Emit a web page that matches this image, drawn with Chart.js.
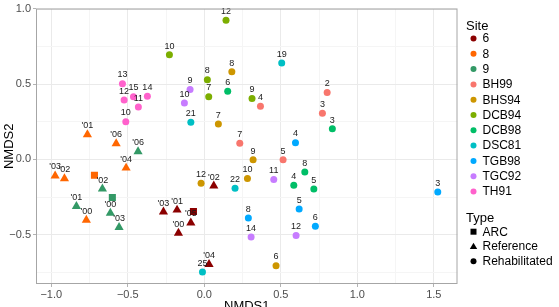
<!DOCTYPE html>
<html>
<head>
<meta charset="utf-8">
<script src="https://cdn.jsdelivr.net/npm/chart.js@4.4.0/dist/chart.umd.min.js"></script>
<style>
  body { margin: 0; background: #fff; }
</style>
</head>
<body>
<canvas id="myChart" width="559" height="307"></canvas>
<script>
const siteNames = ["6", "8", "9", "BH99", "BHS94", "DCB94", "DCB98", "DSC81", "TGB98", "TGC92", "TH91"];
const siteColors = ["#8B0000", "#FF6600", "#339966", "#F8766D", "#CD9600", "#7CAE00", "#00BE67", "#00BFC4", "#00A9FF", "#C77CFF", "#FF61CC"];
const typeNames = ["ARC", "Reference", "Rehabilitated"];

// one entry per sample, grouped by site
const pointSite = [
  "6", "6", "6", "6", "6", "6", "6",
  "8", "8", "8", "8", "8", "8", "8",
  "9", "9", "9", "9", "9", "9",
  "BH99", "BH99", "BH99", "BH99", "BH99",
  "BHS94", "BHS94", "BHS94", "BHS94", "BHS94", "BHS94",
  "DCB94", "DCB94", "DCB94", "DCB94", "DCB94",
  "DCB98", "DCB98", "DCB98", "DCB98", "DCB98",
  "DSC81", "DSC81", "DSC81", "DSC81",
  "TGB98", "TGB98", "TGB98", "TGB98", "TGB98",
  "TGC92", "TGC92", "TGC92", "TGC92", "TGC92",
  "TH91", "TH91", "TH91", "TH91", "TH91", "TH91"
];
const pointType = [
  "Reference", "Reference", "Reference", "Reference", "Reference", "Reference", "ARC",
  "Reference", "Reference", "Reference", "Reference", "Reference", "Reference", "ARC",
  "Reference", "Reference", "Reference", "Reference", "Reference", "ARC"
];
while (pointType.length < pointSite.length) pointType.push("Rehabilitated");

const pointLabel = [
  "'03", "'01", "'00", "'05", "'02", "'04", "",
  "'01", "'06", "'04", "'03", "'02", "'00", "",
  "'06", "'02", "'01", "'00", "'03", "",
  "2", "3", "4", "7", "5",
  "8", "7", "9", "10", "12", "6",
  "10", "12", "8", "7", "9",
  "6", "3", "8", "4", "5",
  "19", "21", "22", "25",
  "4", "5", "8", "6", "3",
  "9", "10", "11", "14", "12",
  "13", "15", "14", "12", "11", "10"
];
const nmds1 = [
  -0.267, -0.178, -0.169, -0.088, 0.062, 0.031, -0.071,
  -0.764, -0.576, -0.511, -0.975, -0.914, -0.771, -0.718,
  -0.433, -0.666, -0.836, -0.614, -0.557, -0.601,
  0.803, 0.772, 0.367, 0.232, 0.515,
  0.180, 0.092, 0.319, 0.282, -0.021, 0.469,
  -0.228, 0.142, 0.020, 0.029, 0.312,
  0.153, 0.837, 0.657, 0.585, 0.716,
  0.506, -0.088, 0.201, -0.012,
  0.596, 0.620, 0.288, 0.726, 1.526,
  -0.093, -0.130, 0.454, 0.306, 0.600,
  -0.535, -0.463, -0.372, -0.524, -0.431, -0.513
];
const nmds2 = [
  -0.349, -0.336, -0.490, -0.421, -0.176, -0.697, -0.346,
  0.165, 0.105, -0.057, -0.109, -0.127, -0.403, -0.105,
  0.052, -0.196, -0.312, -0.357, -0.451, -0.253,
  0.444, 0.307, 0.353, 0.107, -0.003,
  0.582, 0.235, -0.003, -0.127, -0.159, -0.706,
  0.695, 0.924, 0.529, 0.416, 0.405,
  0.453, 0.203, -0.083, -0.172, -0.196,
  0.640, 0.246, -0.192, -0.748,
  0.111, -0.329, -0.390, -0.444, -0.216,
  0.464, 0.375, -0.133, -0.516, -0.506,
  0.503, 0.416, 0.420, 0.394, 0.348, 0.250
];

const xTicks = [-1.0, -0.75, -0.5, -0.25, 0, 0.25, 0.5, 0.75, 1.0, 1.25, 1.5];
const yTicks = [-0.75, -0.5, -0.25, 0, 0.25, 0.5, 0.75, 1.0];

const FONT = '"Liberation Sans", Arial, sans-serif';
const shapeOf = { ARC: "rect", Reference: "triangle", Rehabilitated: "circle" };
const sizeOf = { ARC: 5, Reference: 5.3, Rehabilitated: 3.5 };

function isMajor(v) {
  return Math.abs(v * 2 - Math.round(v * 2)) < 1e-6;
}
function fmt(v) {
  if (!isMajor(v)) return "";
  return v.toFixed(1).replace("-", "\u2212");
}

const datasets = siteNames.map((s, k) => {
  const idx = [];
  pointSite.forEach((p, i) => { if (p === s) idx.push(i); });
  return {
    label: s,
    data: idx.map(i => ({ x: nmds1[i], y: nmds2[i] })),
    pointLabels: idx.map(i => pointLabel[i]),
    pointStyle: idx.map(i => shapeOf[pointType[i]]),
    pointRadius: idx.map(i => sizeOf[pointType[i]]),
    backgroundColor: siteColors[k],
    borderColor: siteColors[k],
    borderWidth: 0,
    pointBorderWidth: 0
  };
});

const gridCfg = {
  color: c => isMajor(c.tick.value) ? "#EAEAEA" : "#F5F5F5",
  tickColor: c => isMajor(c.tick.value) ? "#B3B3B3" : "rgba(0,0,0,0)",
  tickLength: 3,
  lineWidth: 1
};

const pointLabelsPlugin = {
  id: "pointLabels",
  afterDatasetsDraw(chart) {
    const ctx = chart.ctx;
    ctx.save();
    ctx.font = "9px " + FONT;
    ctx.fillStyle = "#1a1a1a";
    ctx.textAlign = "center";
    ctx.textBaseline = "alphabetic";
    chart.data.datasets.forEach((ds, i) => {
      chart.getDatasetMeta(i).data.forEach((el, j) => {
        const t = ds.pointLabels[j];
        if (t) ctx.fillText(t, el.x, el.y - 6.3);
      });
    });
    ctx.restore();
  }
};

const decorPlugin = {
  id: "decor",
  afterDraw(chart) {
    const ctx = chart.ctx;
    const a = chart.chartArea;
    ctx.save();
    // panel border
    ctx.strokeStyle = "#A6A6A6";
    ctx.lineWidth = 1;
    ctx.strokeRect(a.left + 0.5, a.top + 0.5, a.right - a.left - 1, a.bottom - a.top - 1);

    // axis titles
    ctx.fillStyle = "#000";
    ctx.font = "13px " + FONT;
    ctx.textAlign = "center";
    ctx.textBaseline = "alphabetic";
    ctx.fillText("NMDS1", (a.left + a.right) / 2, 310);
    ctx.translate(13, (a.top + a.bottom) / 2);
    ctx.rotate(-Math.PI / 2);
    ctx.fillText("NMDS2", 0, 0);
    ctx.restore();

    // legend
    ctx.save();
    ctx.textAlign = "left";
    ctx.fillStyle = "#000";
    ctx.font = "13px " + FONT;
    ctx.textBaseline = "alphabetic";
    ctx.fillText("Site", 466, 29.5);
    ctx.font = "12px " + FONT;
    ctx.textBaseline = "middle";
    siteNames.forEach((s, i) => {
      const y = 38.5 + 15.3 * i;
      ctx.fillStyle = siteColors[i];
      ctx.beginPath();
      ctx.arc(473.5, y, 3, 0, Math.PI * 2);
      ctx.fill();
      ctx.fillStyle = "#000";
      ctx.fillText(s, 482.5, y + 0.5);
    });
    ctx.font = "13px " + FONT;
    ctx.textBaseline = "alphabetic";
    ctx.fillText("Type", 466, 222);
    ctx.font = "12px " + FONT;
    ctx.textBaseline = "middle";
    typeNames.forEach((t, i) => {
      const y = 231.7 + 14.8 * i;
      ctx.fillStyle = "#000";
      ctx.beginPath();
      if (t === "ARC") {
        ctx.rect(470.5, y - 3, 6, 6);
      } else if (t === "Reference") {
        ctx.moveTo(473.5, y - 3.8);
        ctx.lineTo(477.2, y + 2.6);
        ctx.lineTo(469.8, y + 2.6);
        ctx.closePath();
      } else {
        ctx.arc(473.5, y, 3, 0, Math.PI * 2);
      }
      ctx.fill();
      ctx.fillText(t, 482.5, y + 0.5);
    });
    ctx.restore();
  }
};

const config = {
  type: "scatter",
  data: { datasets: datasets },
  options: {
    responsive: false,
    animation: false,
    events: [],
    layout: { padding: { left: 0, top: 4, right: 101.5, bottom: 0 } },
    scales: {
      x: {
        type: "linear",
        min: -1.1,
        max: 1.655,
        afterBuildTicks: scale => { scale.ticks = xTicks.map(v => ({ value: v })); },
        afterFit: scale => { scale.height = 23; },
        grid: gridCfg,
        border: { display: false },
        ticks: {
          autoSkip: false,
          maxRotation: 0,
          padding: 1,
          color: "#4D4D4D",
          font: { family: FONT, size: 11 },
          callback: v => fmt(v)
        }
      },
      y: {
        type: "linear",
        min: -0.828,
        max: 1.002,
        afterBuildTicks: scale => { scale.ticks = yTicks.map(v => ({ value: v })); },
        afterFit: scale => { scale.width = 36; },
        grid: gridCfg,
        border: { display: false },
        ticks: {
          autoSkip: false,
          padding: 2,
          color: "#4D4D4D",
          font: { family: FONT, size: 11 },
          callback: v => fmt(v)
        }
      }
    },
    plugins: {
      legend: { display: false },
      tooltip: { enabled: false }
    }
  },
  plugins: [pointLabelsPlugin, decorPlugin]
};

const myChart = new Chart(document.getElementById("myChart"), config);
</script>
</body>
</html>
